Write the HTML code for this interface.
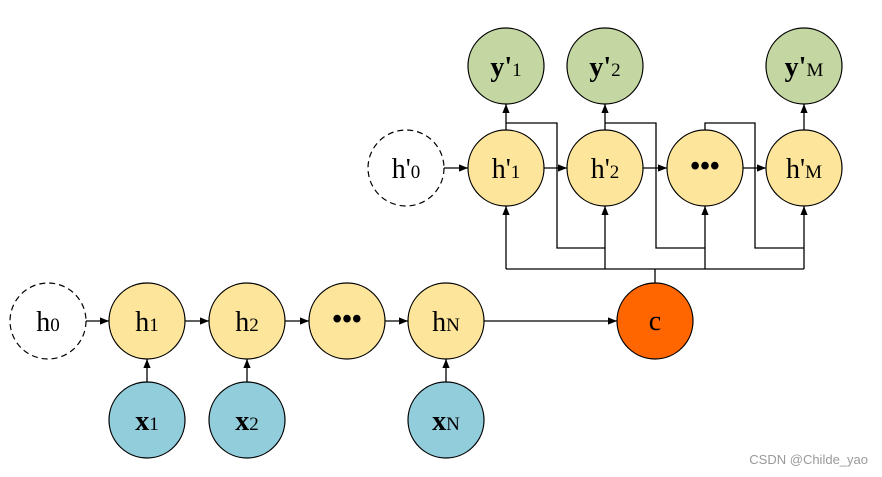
<!DOCTYPE html>
<html><head><meta charset="utf-8"><style>
html,body{margin:0;padding:0;background:#fff;}
svg{display:block;}
text{font-family:"Liberation Serif",serif;fill:#000;}
.m{font-size:28px;}
.s{font-size:19px;}
</style></head><body>
<svg width="882" height="477" viewBox="0 0 882 477" xmlns="http://www.w3.org/2000/svg">
<defs><marker id="a" viewBox="0 0 10 10" refX="10" refY="5" markerWidth="9" markerHeight="9" markerUnits="userSpaceOnUse" orient="auto"><path d="M0,1 L10,5 L0,9 z" fill="#000"/></marker></defs>
<g stroke="#000" stroke-width="1.3" fill="none">
<!-- bottom row horizontal -->
<line x1="86" y1="321" x2="109" y2="321" marker-end="url(#a)"/>
<line x1="185" y1="321" x2="209" y2="321" marker-end="url(#a)"/>
<line x1="285" y1="321" x2="309" y2="321" marker-end="url(#a)"/>
<line x1="385" y1="321" x2="408" y2="321" marker-end="url(#a)"/>
<line x1="484" y1="321" x2="617" y2="321" marker-end="url(#a)"/>
<!-- x up -->
<line x1="147" y1="382" x2="147" y2="359" marker-end="url(#a)"/>
<line x1="247" y1="382" x2="247" y2="359" marker-end="url(#a)"/>
<line x1="446" y1="382" x2="446" y2="359" marker-end="url(#a)"/>
<!-- top row horizontal -->
<line x1="444" y1="168" x2="468" y2="168" marker-end="url(#a)"/>
<line x1="544" y1="168" x2="567" y2="168" marker-end="url(#a)"/>
<line x1="643" y1="168" x2="667" y2="168" marker-end="url(#a)"/>
<line x1="743" y1="168" x2="766" y2="168" marker-end="url(#a)"/>
<!-- h' to y' -->
<line x1="506" y1="130" x2="506" y2="104" marker-end="url(#a)"/>
<line x1="605" y1="130" x2="605" y2="104" marker-end="url(#a)"/>
<line x1="804" y1="130" x2="804" y2="104" marker-end="url(#a)"/>
<!-- c bus -->
<line x1="655" y1="283" x2="655" y2="269"/>
<polyline points="506,269 804,269"/>
<line x1="506" y1="269" x2="506" y2="206" marker-end="url(#a)"/>
<line x1="605" y1="269" x2="605" y2="206" marker-end="url(#a)"/>
<line x1="705" y1="269" x2="705" y2="206" marker-end="url(#a)"/>
<line x1="804" y1="269" x2="804" y2="206" marker-end="url(#a)"/>
<!-- feedback lines -->
<polyline points="506,123 557,123 557,248 605,248"/>
<polyline points="605,123 656,123 656,248 705,248"/>
<polyline points="705,130 705,123 755,123 755,248 804,248"/>
</g>
<g stroke="#000" stroke-width="1.2">
<circle cx="48" cy="321" r="38" fill="#fff" stroke-dasharray="6,4"/>
<circle cx="147" cy="321" r="38" fill="#fde59b"/>
<circle cx="247" cy="321" r="38" fill="#fde59b"/>
<circle cx="347" cy="321" r="38" fill="#fde59b"/>
<circle cx="446" cy="321" r="38" fill="#fde59b"/>
<circle cx="655" cy="321" r="38" fill="#ff6600"/>
<circle cx="147" cy="420" r="38" fill="#92cddc"/>
<circle cx="247" cy="420" r="38" fill="#92cddc"/>
<circle cx="446" cy="420" r="38" fill="#92cddc"/>
<circle cx="406" cy="168" r="38" fill="#fff" stroke-dasharray="6,4"/>
<circle cx="506" cy="168" r="38" fill="#fde59b"/>
<circle cx="605" cy="168" r="38" fill="#fde59b"/>
<circle cx="705" cy="168" r="38" fill="#fde59b"/>
<circle cx="804" cy="168" r="38" fill="#fde59b"/>
<circle cx="506" cy="66" r="38" fill="#c4d7a2"/>
<circle cx="605" cy="66" r="38" fill="#c4d7a2"/>
<circle cx="804" cy="66" r="38" fill="#c4d7a2"/>
</g>
<g text-anchor="middle">
<text x="48" y="331" class="m">h<tspan class="s">0</tspan></text>
<text x="147" y="331" class="m">h<tspan class="s">1</tspan></text>
<text x="247" y="331" class="m">h<tspan class="s">2</tspan></text>
<text x="347" y="328" class="m" font-weight="bold">•••</text>
<text x="446" y="331" class="m">h<tspan class="s">N</tspan></text>
<text x="655" y="330" class="m">c</text>
<text x="147" y="430" class="m" font-weight="bold">x<tspan class="s" font-weight="normal">1</tspan></text>
<text x="247" y="430" class="m" font-weight="bold">x<tspan class="s" font-weight="normal">2</tspan></text>
<text x="446" y="430" class="m" font-weight="bold">x<tspan class="s" font-weight="normal">N</tspan></text>
<text x="406" y="178" class="m">h'<tspan class="s">0</tspan></text>
<text x="506" y="178" class="m">h'<tspan class="s">1</tspan></text>
<text x="605" y="178" class="m">h'<tspan class="s">2</tspan></text>
<text x="705" y="175" class="m" font-weight="bold">•••</text>
<text x="804" y="178" class="m">h'<tspan class="s">M</tspan></text>
<text x="506" y="76" class="m" font-weight="bold">y'<tspan class="s" font-weight="normal">1</tspan></text>
<text x="605" y="76" class="m" font-weight="bold">y'<tspan class="s" font-weight="normal">2</tspan></text>
<text x="804" y="76" class="m" font-weight="bold">y'<tspan class="s" font-weight="normal">M</tspan></text>
</g>
<text x="868" y="464" text-anchor="end" style="font-family:'Liberation Sans',sans-serif;font-size:13px;fill:#999">CSDN @Childe_yao</text>
</svg>
</body></html>
